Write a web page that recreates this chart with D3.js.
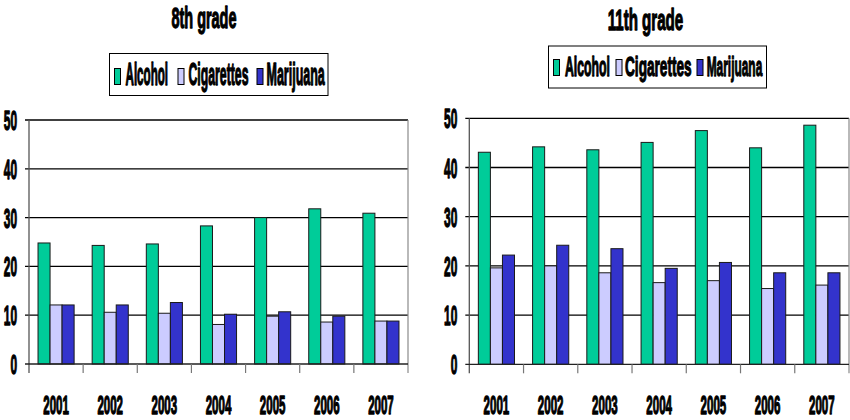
<!DOCTYPE html>
<html>
<head>
<meta charset="utf-8">
<script src="https://cdn.jsdelivr.net/npm/d3@7"></script>
<style>
  html, body { margin: 0; padding: 0; background: #fff; }
  svg text {
    font-family: "Liberation Sans Narrow", "Liberation Sans", Arial, sans-serif;
    font-weight: bold; fill: #000; stroke: #000; stroke-width: 1px;
    vector-effect: non-scaling-stroke; stroke-linejoin: round;
  }
</style>
</head>
<body>
<svg id="chart" width="850" height="420"></svg>
<script>
// Survey data: percentage of students reporting use, by school year
const years = ["2001", "2002", "2003", "2004", "2005", "2006", "2007"];
const seriesNames = ["Alcohol", "Cigarettes", "Marijuana"];
const seriesColors = ["#00CC99", "#CCCCFF", "#3333CC"];
const yTicks = [0, 10, 20, 30, 40, 50];

const grade8Alcohol    = [24.8, 24.3, 24.6, 28.3, 30.0, 31.8, 30.9];
const grade8Cigarettes = [12.1, 10.6, 10.4, 8.1, 9.8, 8.6, 8.8];
const grade8Marijuana  = [12.1, 12.1, 12.6, 10.2, 10.7, 9.8, 8.8];

const grade11Alcohol    = [43.1, 44.2, 43.6, 45.1, 47.5, 44.0, 48.6];
const grade11Cigarettes = [19.6, 20.0, 18.6, 16.6, 17.0, 15.4, 16.1];
const grade11Marijuana  = [22.2, 24.2, 23.5, 19.5, 20.7, 18.6, 18.6];

const svg = d3.select("#chart");

// Condensed bold lettering: the glyphs are squeezed horizontally to a set width.
function label(g, txt, x, y, size, width, anchor) {
  const t = g.append("text").attr("font-size", size).text(txt);
  const natural = t.node().getComputedTextLength();
  const sx = width / natural;
  const dx = anchor === "middle" ? -width / 2 : anchor === "end" ? -width : 0;
  t.attr("transform", `translate(${x + dx},${y}) scale(${sx},1)`);
  return t;
}

function drawPanel(cfg) {
  const g = svg.append("g");
  const series = cfg.series;

  const x = d3.scaleBand().domain(years).range([cfg.left, cfg.right]).padding(0);
  const y = d3.scaleLinear().domain([0, 50]).range([cfg.bottom, cfg.top]);

  // title
  label(g, cfg.title, cfg.titleX, cfg.titleY, 29, cfg.titleW, "middle");

  // legend
  const lg = cfg.legend;
  g.append("rect")
    .attr("x", lg.x).attr("y", lg.y).attr("width", lg.w).attr("height", lg.h)
    .attr("fill", "#fff").attr("stroke", "#000").attr("stroke-width", 1);
  seriesNames.forEach((name, i) => {
    g.append("rect")
      .attr("x", lg.swatchX[i] + 0.5).attr("y", lg.swatchY + 0.5)
      .attr("width", 6).attr("height", lg.swatchH)
      .attr("fill", seriesColors[i]).attr("stroke", "#000").attr("stroke-width", 1);
    label(g, name, lg.textX[i], lg.baseline, lg.fontSize, lg.textW[i], "start");
  });

  // horizontal gridlines
  g.append("g").selectAll("line")
    .data(yTicks.filter(t => t > 0))
    .join("line")
    .attr("x1", cfg.left - 4).attr("x2", cfg.right)
    .attr("y1", d => y(d)).attr("y2", d => y(d))
    .attr("stroke", "#000").attr("stroke-width", 1.3);

  // right frame edge
  g.append("line")
    .attr("x1", cfg.right).attr("x2", cfg.right)
    .attr("y1", y(50)).attr("y2", cfg.bottom + 9)
    .attr("stroke", "#8a8a8a").attr("stroke-width", 1.2);

  // bars
  const barW = x.bandwidth() / 4.5;
  const offset = barW * 0.75;
  series.forEach((vals, si) => {
    g.append("g").selectAll("rect")
      .data(vals)
      .join("rect")
      .attr("x", (d, i) => x(years[i]) + offset + si * barW)
      .attr("y", d => y(d))
      .attr("width", barW)
      .attr("height", d => y(0) - y(d))
      .attr("fill", seriesColors[si])
      .attr("stroke", "#1a1a1a").attr("stroke-width", 1);
  });

  // y axis line and category ticks
  g.append("line")
    .attr("x1", cfg.left).attr("x2", cfg.left)
    .attr("y1", y(50)).attr("y2", cfg.bottom + 9)
    .attr("stroke", "#555").attr("stroke-width", 1.3);
  g.append("line")
    .attr("x1", cfg.left - 4).attr("x2", cfg.right)
    .attr("y1", y(0)).attr("y2", y(0))
    .attr("stroke", "#222").attr("stroke-width", 1.3);
  g.append("g").selectAll("line")
    .data(years.slice(1))
    .join("line")
    .attr("x1", d => x(d)).attr("x2", d => x(d))
    .attr("y1", y(0)).attr("y2", y(0) + 9)
    .attr("stroke", "#777").attr("stroke-width", 1.2);

  // y tick labels
  yTicks.forEach(t => {
    const s = String(t);
    label(g, s, cfg.left - 12, y(t) + 10, 28, s.length * 6.6, "end");
  });

  // category labels
  years.forEach(yr => {
    label(g, yr, x(yr) + x.bandwidth() / 2, 414, 25.5, 25.6, "middle");
  });
}

drawPanel({
  title: "8th grade", titleX: 204, titleY: 28, titleW: 65,
  left: 29, right: 408, top: 120, bottom: 364,
  series: [grade8Alcohol, grade8Cigarettes, grade8Marijuana],
  legend: {
    x: 109.5, y: 53.5, w: 218.5, h: 42,
    swatchX: [114, 177.5, 256.5], swatchY: 68, swatchH: 16,
    textX: [125.5, 188.5, 266.5], textW: [42.6, 60, 58.3],
    baseline: 85, fontSize: 31
  }
});

drawPanel({
  title: "11th grade", titleX: 645.5, titleY: 30, titleW: 75.6,
  left: 469.3, right: 849, top: 118.3, bottom: 364.3,
  series: [grade11Alcohol, grade11Cigarettes, grade11Marijuana],
  legend: {
    x: 548.5, y: 46, w: 218, h: 42,
    swatchX: [553, 615.5, 696.5], swatchY: 59, swatchH: 16,
    textX: [565, 625, 706.7], textW: [45, 66.7, 55.6],
    baseline: 76, fontSize: 28.5
  }
});
</script>
</body>
</html>
